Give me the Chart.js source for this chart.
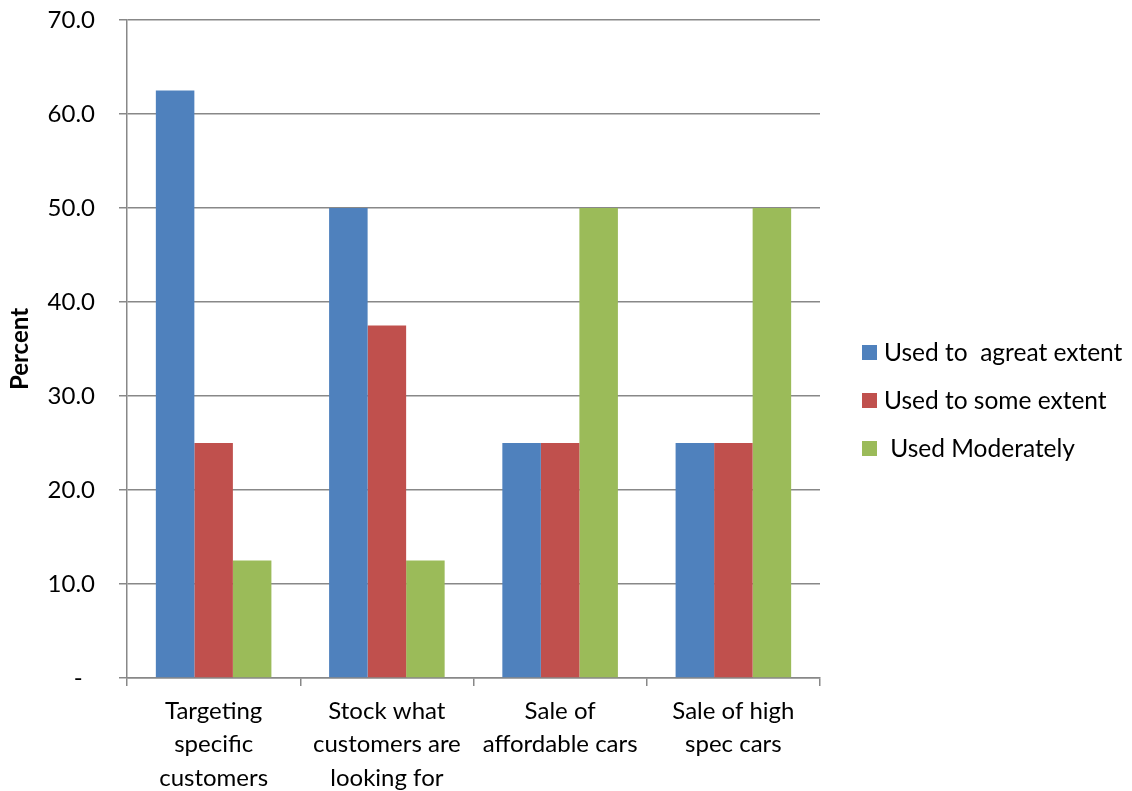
<!DOCTYPE html>
<html>
<head>
<meta charset="utf-8">
<script src="https://cdn.jsdelivr.net/npm/chart.js@4"></script>
<style>
  html, body { margin: 0; padding: 0; background: #fff; }
  #wrap { position: relative; width: 1132px; height: 791px; }
  #legend { position: absolute; left: 862px; top: 328px; font-family: Lato, sans-serif; font-size: 24.5px; color: #000; }
  #legend div { height: 48px; display: flex; align-items: center; white-space: pre; line-height: 32px; }
  #legend span.box { display: inline-block; width: 15px; height: 15px; margin-right: 7px; }
</style>
</head>
<body>
<div id="wrap">
  <canvas id="chart" width="1132" height="791"></canvas>
  <div id="legend"></div>
</div>
<script>
const categories = [
    ['Targeting', 'specific', 'customers'],
    ['Stock what', 'customers are', 'looking for'],
    ['Sale of', 'affordable cars'],
    ['Sale of high', 'spec cars']
];
const seriesNames = ['Used to  agreat extent', 'Used to some extent', ' Used Moderately'];
const greatExtent = [62.5, 50.0, 25.0, 25.0];
const someExtent = [25.0, 37.5, 25.0, 25.0];
const moderately = [12.5, 12.5, 50.0, 50.0];
const seriesColors = ['#4F81BD', '#C0504D', '#9BBB59'];

const gridColor = '#888888';
const fontFamily = 'Lato, sans-serif';

const datasets = [greatExtent, someExtent, moderately].map((vals, i) => ({
    label: seriesNames[i],
    data: vals,
    backgroundColor: seriesColors[i],
    borderWidth: 0,
    categoryPercentage: 0.667,
    barPercentage: 1.0
}));

const chart = new Chart(document.getElementById('chart'), {
    type: 'bar',
    data: { labels: categories, datasets: datasets },
    options: {
        responsive: false,
        animation: false,
        layout: { padding: { top: 20, right: 312, left: 0, bottom: 0 } },
        plugins: { legend: { display: false }, tooltip: { enabled: false } },
        scales: {
            x: {
                grid: { offset: true, drawOnChartArea: false, tickLength: 8, color: gridColor, lineWidth: 1.5 },
                border: { color: gridColor, width: 1.5 },
                ticks: { color: '#000', font: { family: fontFamily, size: 24, lineHeight: 1.38 }, padding: 9, maxRotation: 0, autoSkip: false },
                afterFit: s => { s.height = 113; }
            },
            y: {
                min: 0,
                max: 70,
                ticks: {
                    stepSize: 10,
                    color: '#000',
                    padding: 24,
                    font: { family: fontFamily, size: 24 },
                    callback: v => v === 0 ? '-  ' : v.toFixed(1)
                },
                grid: { tickLength: 8, color: gridColor, lineWidth: 1.5 },
                border: { color: gridColor, width: 1.5 },
                title: { display: true, text: 'Percent', color: '#000', font: { family: fontFamily, size: 24, weight: 'bold' }, padding: { top: 6, bottom: 0 } },
                // fixed axis width; the tick padding shouldn't push the plot top down
                afterFit: s => { s.width = 127; s.paddingTop = 0; s.paddingBottom = 0; }
            }
        }
    }
});

// legend drawn as html next to the plot
const legendEl = document.getElementById('legend');
legendEl.innerHTML = chart.data.datasets.map(ds =>
    '<div><span class="box" style="background:' + ds.backgroundColor + '"></span>' + ds.label + '</div>'
).join('');
</script>
</body>
</html>
